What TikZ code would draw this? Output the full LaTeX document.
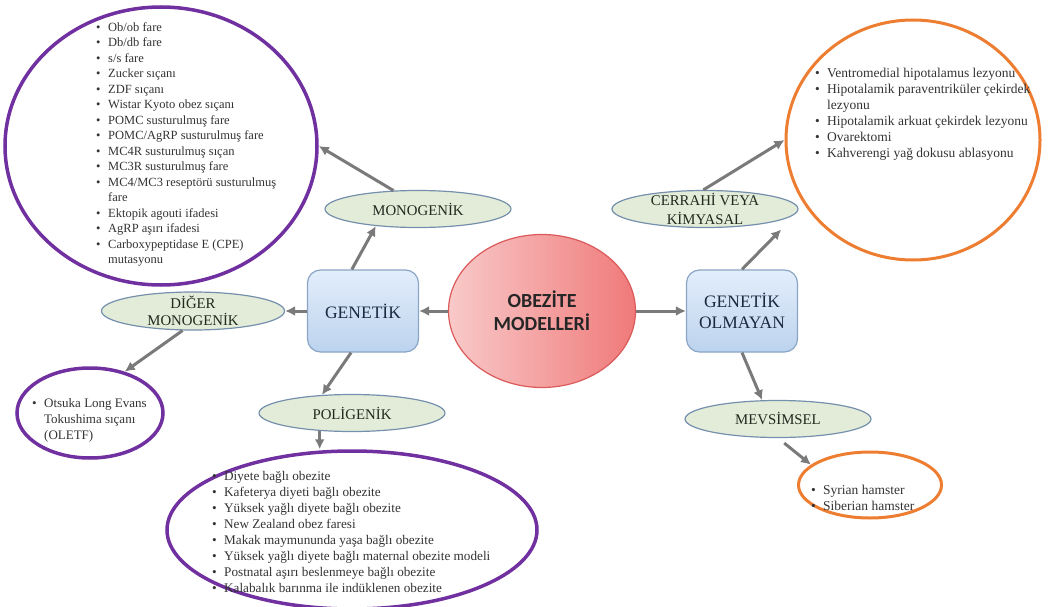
\documentclass[tikz,border=0pt]{standalone}
\usepackage{fontspec}
\setmainfont{Liberation Serif}
\newfontfamily\calibri{Carlito}
\usepackage{tikz}
\usetikzlibrary{arrows.meta,positioning,shapes.geometric}
\definecolor{arrgray}{HTML}{7A7A7A}
\definecolor{listpurple}{HTML}{7030A0}
\definecolor{listorange}{HTML}{ED7D31}
\definecolor{catfill}{HTML}{E2ECD8}
\definecolor{catline}{HTML}{7590AC}
\definecolor{boxtop}{HTML}{E3EEFB}
\definecolor{boxbot}{HTML}{BCD3EE}
\definecolor{boxline}{HTML}{8AA5C5}
\definecolor{hubleft}{HTML}{F9C9C9}
\definecolor{hubright}{HTML}{F07A7A}
\definecolor{hubline}{HTML}{DB5A5A}
\definecolor{inktext}{HTML}{1F2A1F}
\definecolor{navytext}{HTML}{1A2940}
\newcommand\bul{\makebox[12pt][l]{\textbullet}}
\newcommand\cont{\hspace*{12pt}}

\begin{document}
\begin{tikzpicture}[
  x=1pt,y=-1pt,on grid,
  hub/.style={ellipse,draw=hubline,line width=1.2pt,left color=hubleft,right color=hubright,minimum width=187pt,minimum height=153pt,align=center,text=black!85,font=\calibri\bfseries\fontsize{20}{23}\selectfont},
  branch/.style={rectangle,rounded corners=13pt,draw=boxline,line width=1.2pt,top color=boxtop,bottom color=boxbot,minimum width=111pt,minimum height=82pt,align=center,text=navytext,font=\fontsize{17.5}{21}\selectfont},
  cat/.style={ellipse,draw=catline,line width=1.2pt,fill=catfill,minimum width=186pt,minimum height=37pt,inner sep=0pt,align=center,text=inktext,font=\fontsize{14.8}{17}\selectfont},
  purplelist/.style={ellipse,draw=listpurple,line width=3.5pt,inner sep=0pt},
  orangelist/.style={ellipse,draw=listorange,line width=3pt,inner sep=0pt},
  items/.style={anchor=north west,inner sep=0pt,align=left,text=black!80},
  arr/.style={draw=arrgray,line width=3pt,-{Latex[length=10pt,width=10pt]}}
]
\useasboundingbox (0,0) rectangle (1050,607);

\node[hub] (obez) at (542,311) {OBEZİTE\\MODELLERİ};
\node[branch] (gen) [left=179pt of obez] {GENETİK};
\node[branch] (nongen) [right=200pt of obez] {GENETİK\\OLMAYAN};

% genetik side
\node[cat] (mono) [above right=102pt and 55pt of gen] {MONOGENİK};
\node[cat,minimum width=183pt,minimum height=38pt,inner ysep=-2pt] (diger) [left=170pt of gen] {DİĞER\\MONOGENİK};
\node[cat] (poli) [below left=102pt and 11pt of gen] {POLİGENİK};

\node[purplelist,minimum width=312pt,minimum height=278pt] (monolist) [above left=63pt and 257pt of mono] {};
\node[purplelist,minimum width=146pt,minimum height=90pt] (otsuka) [below left=102pt and 103pt of diger] {};
\node[purplelist,minimum width=370pt,minimum height=158pt] (polilist) [below=117pt of poli] {};

\node[items,font=\fontsize{12.5}{15.5}\selectfont] (monoitems) at (96,22) {%
\bul Ob/ob fare\\
\bul Db/db fare\\
\bul s/s fare\\
\bul Zucker sıçanı\\
\bul ZDF sıçanı\\
\bul Wistar Kyoto obez sıçanı\\
\bul POMC susturulmuş fare\\
\bul POMC/AgRP susturulmuş fare\\
\bul MC4R susturulmuş sıçan\\
\bul MC3R susturulmuş fare\\
\bul MC4/MC3 reseptörü susturulmuş\\
\cont fare\\
\bul Ektopik agouti ifadesi\\
\bul AgRP aşırı ifadesi\\
\bul Carboxypeptidase E (CPE)\\
\cont mutasyonu};

\node[items,font=\fontsize{13}{16}\selectfont] (otsukaitems) at (32,398) {%
\bul Otsuka Long Evans\\
\cont Tokushima sıçanı\\
\cont (OLETF)};

\node[items,font=\fontsize{13.2}{16}\selectfont] (poliitems) at (212,471) {%
\bul Diyete bağlı obezite\\
\bul Kafeterya diyeti bağlı obezite\\
\bul Yüksek yağlı diyete bağlı obezite\\
\bul New Zealand obez faresi\\
\bul Makak maymununda yaşa bağlı obezite\\
\bul Yüksek yağlı diyete bağlı maternal obezite modeli\\
\bul Postnatal aşırı beslenmeye bağlı obezite\\
\bul Kalabalık barınma ile indüklenen obezite};

% genetik olmayan side
\node[cat,inner ysep=-3pt,font=\fontsize{14.8}{19}\selectfont] (cerr) [above left=102pt and 37pt of nongen] {CERRAHİ VEYA\\KİMYASAL};
\node[cat] (mevs) [below right=108pt and 36pt of nongen] {MEVSİMSEL};

\node[orangelist,minimum width=254pt,minimum height=240pt] (cerrlist) [above right=69pt and 208pt of cerr] {};
\node[orangelist,minimum width=143pt,minimum height=66pt] (mevslist) [below right=66pt and 92pt of mevs] {};

\node[items,font=\fontsize{13.5}{16}\selectfont] (cerritems) at (815,68) {%
\bul Ventromedial hipotalamus lezyonu\\
\bul Hipotalamik paraventriküler çekirdek\\
\cont lezyonu\\
\bul Hipotalamik arkuat çekirdek lezyonu\\
\bul Ovarektomi\\
\bul Kahverengi yağ dokusu ablasyonu};

\node[items,font=\fontsize{13.5}{16}\selectfont] (mevsitems) at (811,485) {%
\bul Syrian hamster\\
\bul Siberian hamster};

% connectors
\draw[arr] (obez.west) -- (gen.east);
\draw[arr] (obez.east) -- (nongen.west);
\draw[arr] (gen.105) -- (mono.202);
\draw[arr] (mono.143) -- (monolist.east);
\draw[arr] (gen.west) -- (diger.east);
\draw[arr] (diger.242) -- (otsuka.50);
\draw[arr] (gen.254) -- (poli.149);
\draw[arr] (poli.209) -- (poli.209 |- polilist.north);
\draw[arr] (nongen.north) -- ([xshift=10pt,yshift=-7pt]cerr.south east);
\draw[arr] (cerr.95) -- (cerrlist.west);
\draw[arr] (nongen.south) -- (mevs.130);
\draw[arr,shorten <=8pt] (mevs.south) -- (mevslist.161);
\end{tikzpicture}
\end{document}
